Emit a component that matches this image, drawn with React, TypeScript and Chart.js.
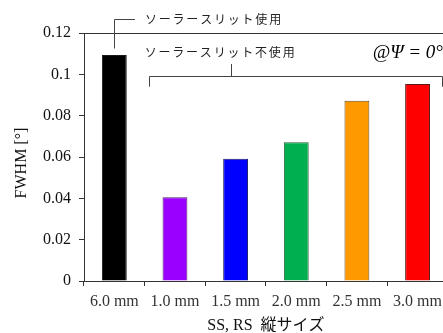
import React, { useEffect, useRef } from "react";
import { Chart, registerables } from "chart.js";

Chart.register(...registerables);

const categories = ["6.0 mm", "1.0 mm", "1.5 mm", "2.0 mm", "2.5 mm", "3.0 mm"];
const fwhm = [0.1093, 0.0405, 0.0592, 0.0671, 0.0872, 0.0953];
const barColors = ["#000000", "#9900ff", "#0000ff", "#00b050", "#ff9900", "#ff0000"];
const barBorders = ["#1a1a1a", "#4a2060", "#1a1a60", "#1f5a30", "#6a4a20", "#5a1a1a"];
const yTicks = [0, 0.02, 0.04, 0.06, 0.08, 0.1, 0.12];
const labelWith = "ソーラースリット使用";
const labelWithout = "ソーラースリット不使用";
const angleLabel = "@Ψ = 0°";
const xTitle = "SS, RS  縦サイズ";
const yTitle = "FWHM [°]";

const SERIF = "'Liberation Serif', 'Times New Roman', serif";
const JP = "'Noto Sans CJK JP', sans-serif";

const annotationPlugin = {
  id: "annots",
  afterDraw(chart: any) {
    const { ctx, chartArea, scales } = chart;
    const x = scales.x;
    const y = scales.y;
    ctx.save();
    // top frame
    ctx.strokeStyle = "#333";
    ctx.lineWidth = 1;
    ctx.beginPath();
    ctx.moveTo(chartArea.left, Math.round(chartArea.top) + 0.5);
    ctx.lineTo(chartArea.right, Math.round(chartArea.top) + 0.5);
    ctx.stroke();

    // bracket 1 (with slit)
    ctx.strokeStyle = "#444";
    const bx = Math.round(x.getPixelForValue(0)) + 0.5;
    const by1 = y.getPixelForValue(0.1125);
    const by2 = Math.round(y.getPixelForValue(0.127)) + 0.5;
    const bxEnd = x.getPixelForValue(0.34);
    ctx.beginPath();
    ctx.moveTo(bx, by1);
    ctx.lineTo(bx, by2);
    ctx.lineTo(bxEnd, by2);
    ctx.stroke();

    // bracket 2 (without slit)
    const lx = Math.round(x.getPixelForValue(0.57)) + 0.5;
    const rx = Math.round(x.getPixelForValue(5.395)) + 0.5;
    const mx = Math.round(x.getPixelForValue(1.93)) + 0.5;
    const ly = Math.round(y.getPixelForValue(0.0993)) + 0.5;
    const lEnd = y.getPixelForValue(0.094);
    const mTop = y.getPixelForValue(0.105);
    ctx.beginPath();
    ctx.moveTo(lx, lEnd);
    ctx.lineTo(lx, ly);
    ctx.lineTo(rx, ly);
    ctx.lineTo(rx, lEnd);
    ctx.moveTo(mx, ly);
    ctx.lineTo(mx, mTop);
    ctx.stroke();

    // texts
    ctx.fillStyle = "#222";
    ctx.font = `12px ${JP}`;
    (ctx as any).letterSpacing = "1.8px";
    ctx.textAlign = "left";
    ctx.textBaseline = "middle";
    ctx.fillText(labelWith, bxEnd + 10, by2);
    ctx.fillText(labelWithout, x.getPixelForValue(0.5), y.getPixelForValue(0.1105));
    (ctx as any).letterSpacing = "0px";

    ctx.fillStyle = "#000";
    ctx.font = `italic 19px ${SERIF}`;
    ctx.fillText(angleLabel, x.getPixelForValue(4.26), y.getPixelForValue(0.1105));

    // y title (drawn here so it can sit slightly below centre, as in the reference)
    ctx.fillStyle = "#111";
    ctx.font = `16px ${SERIF}`;
    ctx.textAlign = "center";
    ctx.translate(chartArea.left - 62, (chartArea.top + chartArea.bottom) / 2 + 6);
    ctx.rotate(-Math.PI / 2);
    ctx.fillText(yTitle, 0, 0);
    ctx.restore();
  },
};

export default function App() {
  const ref = useRef<HTMLCanvasElement | null>(null);
  useEffect(() => {
    if (!ref.current) return;
    const chart = new Chart(ref.current, {
      type: "bar",
      data: {
        labels: categories,
        datasets: [
          {
            data: fwhm,
            backgroundColor: barColors,
            borderColor: barBorders,
            borderWidth: 1,
            barPercentage: 0.41,
            categoryPercentage: 1,
          },
        ],
      },
      options: {
        responsive: false,
        animation: false,
        layout: { padding: { top: 33, right: 0, bottom: 0, left: 0 } },
        plugins: { legend: { display: false }, tooltip: { enabled: false } },
        scales: {
          x: {
            offset: true,
            grid: {
              offset: true,
              drawOnChartArea: false,
              tickLength: 5,
              color: "#333",
            },
            border: { color: "#333", width: 1 },
            ticks: {
              color: "#333",
              padding: 6,
              font: { family: SERIF, size: 16 },
              maxRotation: 0,
              autoSkip: false,
            },
            title: {
              display: true,
              text: xTitle,
              color: "#111",
              font: { family: `${SERIF}, ${JP}`, size: 16 },
              padding: { top: 0, bottom: -2 },
            },
            afterFit: (s: any) => {
              s.height = 52;
            },
          },
          y: {
            min: 0,
            max: 0.12,
            afterBuildTicks: (s: any) => {
              s.ticks = yTicks.map((v) => ({ value: v }));
            },
            grid: {
              drawOnChartArea: false,
              tickLength: 5,
              color: "#333",
            },
            border: { color: "#333", width: 1 },
            ticks: {
              color: "#111",
              padding: 8,
              font: { family: SERIF, size: 16 },
              callback: (v: any) => String(Math.round(Number(v) * 100) / 100),
            },
            title: { display: false },
            afterFit: (s: any) => {
              s.width = 84;
            },
          },
        },
      },
      plugins: [annotationPlugin],
    } as any);
    return () => chart.destroy();
  }, []);

  return (
    <div
      style={{
        position: "fixed",
        left: 0,
        top: 0,
        width: 443,
        height: 333,
        overflow: "hidden",
        background: "#fff",
      }}
    >
      <canvas ref={ref} width={448} height={333} style={{ display: "block" }} />
    </div>
  );
}
